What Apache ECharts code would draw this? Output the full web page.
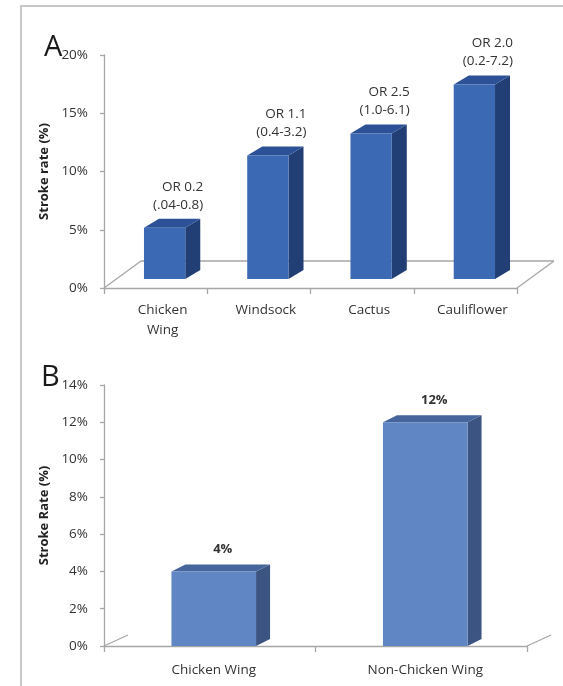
<!DOCTYPE html>
<html>
<head>
<meta charset="utf-8">
<script src="https://cdn.jsdelivr.net/npm/echarts@6/dist/echarts.min.js"></script>
<style>
  html, body { margin: 0; padding: 0; background: #fff; }
  #chart { width: 563px; height: 686px; }
</style>
</head>
<body>
<div id="chart"></div>
<script>
// Panel A: stroke rate by left atrial appendage morphology
const morphologies = ['Chicken\nWing', 'Windsock', 'Cactus', 'Cauliflower'];
const strokeRates = [4.4, 10.6, 12.5, 16.7];
const oddsRatios = ['OR 0.2', 'OR 1.1', 'OR 2.5', 'OR 2.0'];
const confIntervals = ['(.04-0.8)', '(0.4-3.2)', '(1.0-6.1)', '(0.2-7.2)'];

// Panel B: chicken wing vs all other morphologies
const groups = ['Chicken Wing', 'Non-Chicken Wing'];
const groupRates = [4, 12];

const FONT = '"Open Sans", "Liberation Sans", sans-serif';
const AXIS_GREY = '#a6a6a6';
const TEXT = '#333333';

// Excel-style 3D column: front face, lit top and shaded right side
function column3d(o) {
  return function (params, api) {
    const i = api.value(0), v = api.value(1);
    const t = api.coord([i, v]);
    const b = api.coord([i, 0]);
    const w = api.size([1, 0])[0] * o.ratio;
    const x0 = t[0] + o.sx - w / 2, x1 = x0 + w;
    const y0 = t[1] + o.sy, y1 = b[1] + o.sy;
    const dx = o.dx, dy = o.dy;
    const kids = [
      { type: 'polygon', shape: { points: [[x1, y0], [x1 + dx, y0 + dy], [x1 + dx, y1 + dy], [x1, y1]] },
        style: { fill: o.side } },
      { type: 'polygon', shape: { points: [[x0, y0], [x0 + dx, y0 + dy], [x1 + dx, y0 + dy], [x1, y0]] },
        style: { fill: o.top } },
      { type: 'rect', shape: { x: x0, y: y0, width: w, height: y1 - y0 },
        style: { fill: o.front } }
    ];
    const lbl = o.label(params.dataIndex, v);
    kids.push({
      type: 'text',
      x: o.labelAlign === 'right' ? x1 + dx + o.lx : (x0 + x1) / 2 + o.lx,
      y: y0 + dy - o.ly,
      style: {
        text: lbl, align: o.labelAlign, verticalAlign: 'bottom',
        fontFamily: FONT, fontSize: o.labelSize, fontWeight: o.labelWeight,
        lineHeight: 18, fill: TEXT
      }
    });
    return { type: 'group', children: kids };
  };
}

// floor outline of the 3D plot area
function floor(depthX, depthY, full) {
  return function (params, api) {
    const cs = params.coordSys;
    const L = cs.x, R = cs.x + cs.width, B = cs.y + cs.height;
    const st = { stroke: AXIS_GREY, lineWidth: 1.3, fill: null };
    const kids = [
      { type: 'line', shape: { x1: L, y1: B, x2: L + depthX, y2: B + depthY }, style: st },
      { type: 'line', shape: { x1: R, y1: B, x2: R + depthX, y2: B + depthY }, style: st }
    ];
    if (full) {
      kids.push({ type: 'line', shape: { x1: L + depthX, y1: B + depthY, x2: R + depthX, y2: B + depthY }, style: st });
    }
    return { type: 'group', children: kids };
  };
}

function valueAxis(gridIndex, max, interval, name) {
  return {
    type: 'value', gridIndex, min: 0, max, interval,
    name, nameLocation: 'middle', nameRotate: 90, nameGap: 50,
    nameTextStyle: { fontFamily: FONT, fontSize: 13, fontWeight: 'bold', color: '#222' },
    axisLine: { show: true, lineStyle: { color: AXIS_GREY, width: 1.3 } },
    axisTick: { show: true, length: 4, lineStyle: { color: AXIS_GREY, width: 1.3 } },
    axisLabel: { formatter: '{value}%', margin: 16, fontFamily: FONT, fontSize: 13.5, color: TEXT },
    splitLine: { show: false }
  };
}

function categoryAxis(gridIndex, data, margin, shift) {
  return {
    type: 'category', gridIndex, data,
    axisLine: { show: true, lineStyle: { color: AXIS_GREY, width: 1.3 } },
    axisTick: { show: true, length: 6, lineStyle: { color: AXIS_GREY, width: 1.3 } },
    axisLabel: { margin, fontFamily: FONT, fontSize: 13.5, color: TEXT, lineHeight: 20,
                 padding: [0, 0, 0, shift] }
  };
}

const chart = echarts.init(document.getElementById('chart'), null, { renderer: 'canvas' });

chart.setOption({
  backgroundColor: '#fff',
  animation: false,
  title: [
    { text: 'A', left: 39, top: 28, textStyle: { fontFamily: FONT, fontSize: 29, fontWeight: 'normal', color: '#1a1a1a' } },
    { text: 'B', left: 36, top: 358, textStyle: { fontFamily: FONT, fontSize: 29, fontWeight: 'normal', color: '#1a1a1a' } }
  ],
  graphic: [
    { type: 'polyline', shape: { points: [[21, 686], [21, 6], [563, 6]] },
      style: { stroke: '#c8c8c8', lineWidth: 2, fill: null } }
  ],
  grid: [
    { left: 104, right: 46, top: 55, bottom: 398 },
    { left: 104, right: 36, top: 385, bottom: 40 }
  ],
  xAxis: [
    categoryAxis(0, morphologies, 12, 14),
    categoryAxis(1, groups, 14, 8)
  ],
  yAxis: [
    valueAxis(0, 20, 5, 'Stroke rate (%)'),
    valueAxis(1, 14, 2, 'Stroke Rate (%)')
  ],
  series: [
    {
      type: 'custom', xAxisIndex: 0, yAxisIndex: 0, z: 1, clip: false,
      data: [[0, 0]], renderItem: floor(37, -27, true)
    },
    {
      type: 'custom', xAxisIndex: 0, yAxisIndex: 0, z: 2, clip: false,
      encode: { x: 0, y: 1 },
      data: strokeRates.map((v, i) => [i, v]),
      renderItem: column3d({
        ratio: 0.4, sx: 9, sy: -9, dx: 15, dy: -9,
        front: '#3c69b3', side: '#213f74', top: '#2c5196',
        labelAlign: 'right', lx: 3, ly: 5, labelSize: 13.5, labelWeight: 'normal',
        label: (i) => oddsRatios[i] + '\n' + confIntervals[i]
      })
    },
    {
      type: 'custom', xAxisIndex: 1, yAxisIndex: 1, z: 1, clip: false,
      data: [[0, 0]], renderItem: floor(24, -11, false)
    },
    {
      type: 'custom', xAxisIndex: 1, yAxisIndex: 1, z: 2, clip: false,
      encode: { x: 0, y: 1 },
      data: groupRates.map((v, i) => [i, v]),
      renderItem: column3d({
        ratio: 0.4, sx: 4, sy: 0, dx: 14, dy: -7,
        front: '#6186c4', side: '#3b5482', top: '#46659c',
        labelAlign: 'center', lx: 9, ly: 6, labelSize: 13, labelWeight: 'bold',
        label: (i, v) => Math.round(v) + '%'
      })
    }
  ]
});
</script>
</body>
</html>
